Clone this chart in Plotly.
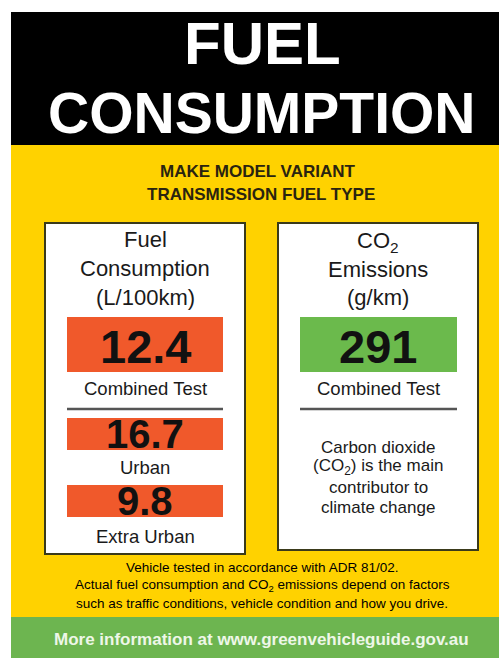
import plotly.graph_objects as go

# ---- data ----
title_lines = ["FUEL", "CONSUMPTION"]
vehicle_lines = ["MAKE MODEL VARIANT", "TRANSMISSION FUEL TYPE"]
fuel_header = ["Fuel", "Consumption", "(L/100km)"]
fuel_values = [12.4, 16.7, 9.8]
fuel_labels = ["Combined Test", "Urban", "Extra Urban"]
co2_header = ["CO<sub>2</sub>", "Emissions", "(g/km)"]
co2_values = [291]
co2_labels = ["Combined Test"]
co2_note = ["Carbon dioxide", "(CO<sub>2</sub>) is the main", "contributor to", "climate change"]
footer_lines = ["Vehicle tested in accordance with ADR 81/02.",
                "Actual fuel consumption and CO<sub>2</sub> emissions depend on factors",
                "such as traffic conditions, vehicle condition and how you drive."]
web_line = "More information at www.greenvehicleguide.gov.au"

# ---- style ----
W, H = 499, 658
FONT = "Liberation Sans, Arial, sans-serif"
BLACK = "#000000"
YELLOW = "#FFD200"
ORANGE = "#F0592B"
GREEN_BOX = "#6BBA4C"
GREEN_BAND = "#6DB550"

shapes = []
ann = []

def rect(x0, y0, x1, y1, fill, line=None, lw=0):
    shapes.append(dict(type="rect", xref="x", yref="y", x0=x0, x1=x1, y0=y0, y1=y1,
                       fillcolor=fill, line=dict(color=line or fill, width=lw), layer="below"))

def text(x, y, s, size, color="#111", bold=False, anchor="center"):
    if bold:
        s = "<b>" + s + "</b>"
    ann.append(dict(x=x, y=y, xref="x", yref="y", text=s, showarrow=False,
                    xanchor=anchor, yanchor="middle",
                    font=dict(family=FONT, size=size, color=color)))

# background panels
rect(11, 12, 499, 146, BLACK)
rect(11, 145, 499, 618, YELLOW)
rect(11, 617, 499, 658, GREEN_BAND)

# title
text(262, 43, title_lines[0], 60, "white", bold=True)
text(262, 113, title_lines[1], 57, "white", bold=True)

# vehicle
text(257, 171, vehicle_lines[0], 17, "#2a2410", bold=True)
text(261, 194, vehicle_lines[1], 17, "#2a2410", bold=True)

# boxes
rect(45, 223, 245, 554, "white", "#3a3a1a", 2)
rect(278, 223, 478, 550, "white", "#3a3a1a", 2)

# fuel header
for y, s in zip([239, 268, 297], fuel_header):
    text(145, y, s, 22, "#1a1a1a")
for y, s in zip([242, 269, 297], co2_header):
    text(378, y, s, 22, "#1a1a1a")

# fuel value boxes
box_y = [(317, 372), (418, 450), (485, 517)]
val_size = [47, 40, 40]
val_dy = [2, 0, 0]
lab_y = [388, 467, 536]
for (y0, y1), v, lab, vs, dy, ly in zip(box_y, fuel_values, fuel_labels, val_size, val_dy, lab_y):
    rect(67, y0, 223, y1, ORANGE)
    text(145, (y0 + y1) / 2 + dy, f"{v:.1f}", vs, "#111", bold=True)
    text(145, ly, lab, 18.5, "#1a1a1a")

# co2 value box
rect(300, 317, 457, 372, GREEN_BOX)
text(378, 346, f"{co2_values[0]}", 47, "#111", bold=True)
text(378, 388, co2_labels[0], 18.5, "#1a1a1a")

# dividers
shapes.append(dict(type="line", xref="x", yref="y", x0=67, x1=223, y0=409, y1=409,
                   line=dict(color="#555", width=2.5)))
shapes.append(dict(type="line", xref="x", yref="y", x0=300, x1=457, y0=409, y1=409,
                   line=dict(color="#555", width=2.5)))

# co2 note
for y, s in zip([447, 467, 487, 507], co2_note):
    text(378, y, s, 17, "#1a1a1a")

# footer
for y, s in zip([567, 585, 603], footer_lines):
    text(262, y, s, 13.5, "#000")

# web
text(261, 639, web_line, 17, "#eef7e8", bold=True)

fig = go.Figure()
fig.add_trace(go.Scatter(x=[0, W], y=[0, H], mode="markers", marker=dict(opacity=0),
                         hoverinfo="skip", showlegend=False))
fig.update_layout(
    width=W, height=H, margin=dict(l=0, r=0, t=0, b=0),
    paper_bgcolor="white", plot_bgcolor="white",
    xaxis=dict(range=[0, W], visible=False, fixedrange=True),
    yaxis=dict(range=[H, 0], visible=False, fixedrange=True),
    shapes=shapes, annotations=ann, showlegend=False,
)
fig.write_html("out.html", config={"displayModeBar": False},
               post_script="document.body.style.margin='0';document.body.style.overflow='hidden';")
